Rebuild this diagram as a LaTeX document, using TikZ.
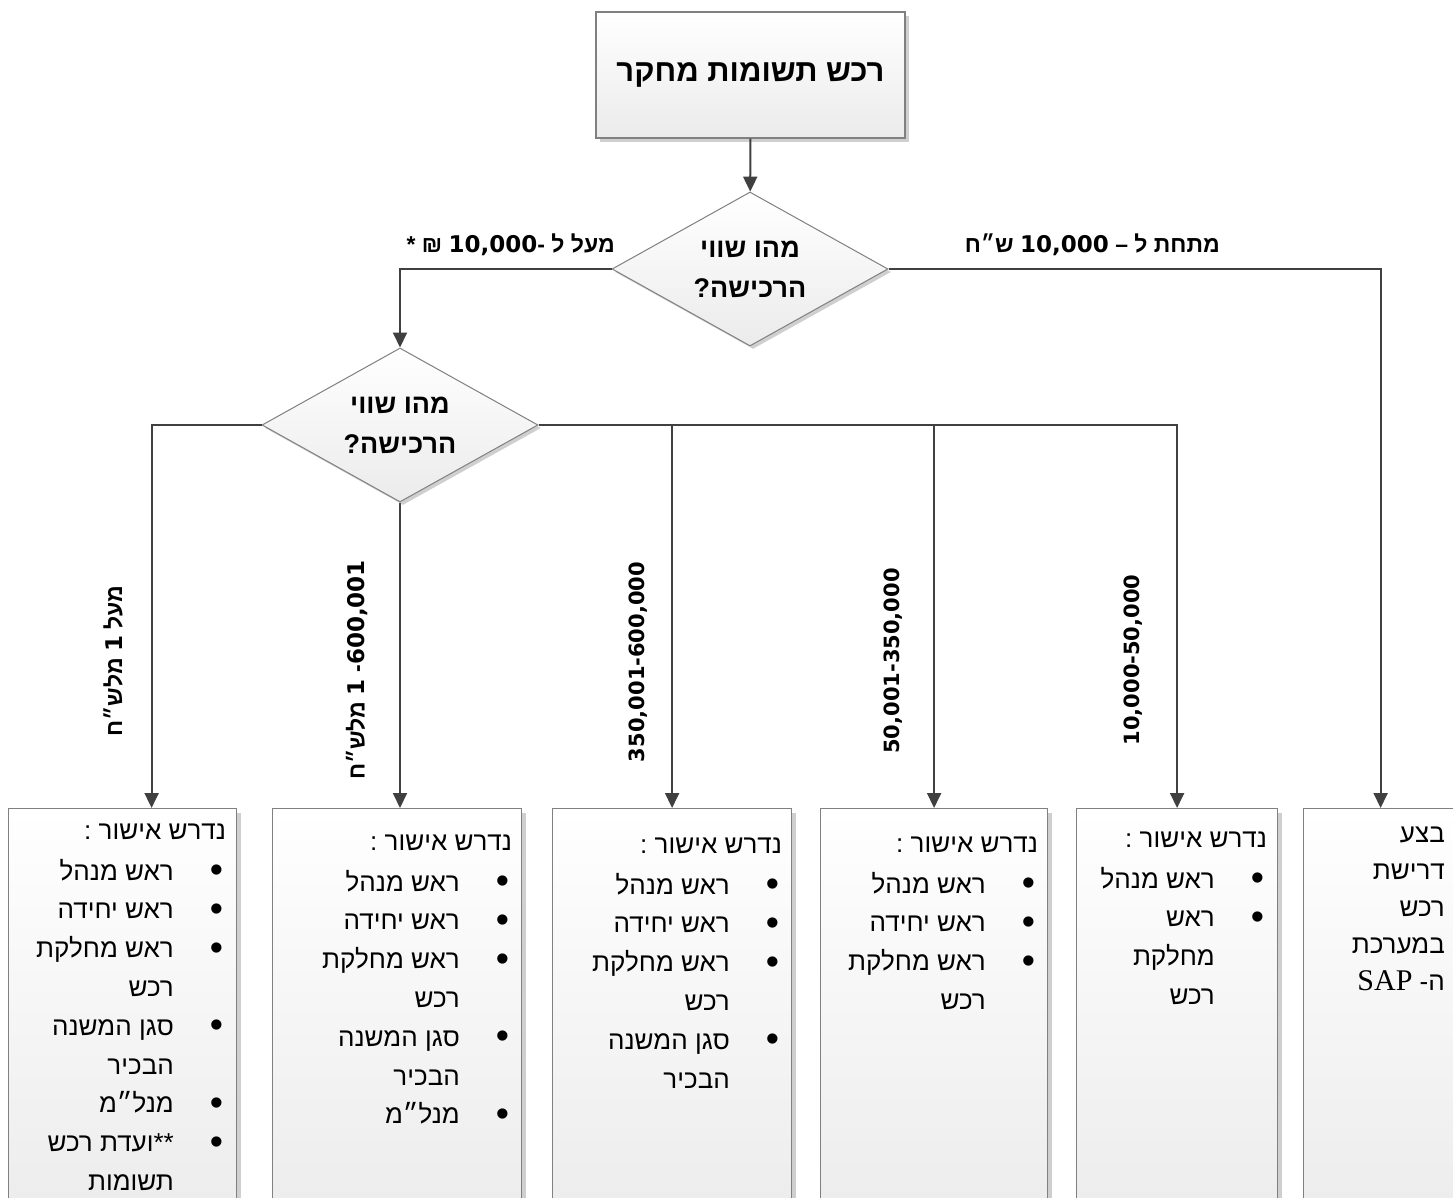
\documentclass[tikz,border=0pt]{standalone}
\usepackage{fontspec}
\setmainfont{Liberation Sans}
\newfontfamily\hebfont[Script=Hebrew]{Liberation Sans}
\newfontfamily\lblfont{DejaVu Sans}
\newfontfamily\latfont{Liberation Serif}
\TeXXeTstate=1
\usetikzlibrary{shapes.geometric,arrows.meta,positioning,shadows}

\definecolor{linegray}{HTML}{404040}
\definecolor{boxgray}{HTML}{808080}
\definecolor{fillgray}{HTML}{EBEBEB}
\definecolor{shadegray}{HTML}{CFCFCF}

% approval list: text column, bullet column
\newcommand{\bdot}{\raisebox{-2.5pt}{\scalebox{1.45}{\textbullet}}}
\newcommand{\apprlist}[1]{\begin{tabular}{@{}r@{\hspace{36pt}}c@{\hspace{3pt}}}
  \multicolumn{2}{@{}r@{}}{\beginR נדרש אישור :\endR}\\[2pt]
  #1
\end{tabular}}
\newcommand{\itm}[1]{\beginR #1\endR & \bdot}
\newcommand{\cnt}[1]{\beginR #1\endR &}
\newcommand{\num}[1]{\beginL{\lblfont #1}\endL}

\tikzset{
  conn/.style={draw=linegray, line width=2pt, -{Triangle[width=14pt,length=15pt]}},
  titlebox/.style={rectangle, draw=boxgray, line width=1.2pt, top color=white, bottom color=fillgray,
    minimum width=309pt, minimum height=126pt, inner sep=0pt,
    drop shadow={shadow xshift=4pt, shadow yshift=-4pt, fill=shadegray, opacity=1},
    font=\hebfont\bfseries\fontsize{31}{36}\selectfont},
  decision/.style={diamond, draw=boxgray, line width=1pt, top color=white, bottom color=fillgray,
    minimum width=276pt, minimum height=154pt, inner sep=-30pt, align=center,
    drop shadow={shadow xshift=3pt, shadow yshift=-3pt, fill=shadegray, opacity=1},
    font=\hebfont\bfseries\fontsize{27}{40}\selectfont},
  apprbox/.style={rectangle, draw=boxgray, line width=1.2pt, top color=white, bottom color=fillgray,
    minimum height=430pt, inner sep=0pt, anchor=north west,
    drop shadow={shadow xshift=4pt, shadow yshift=-4pt, fill=shadegray, opacity=1}},
  apprtext/.style={inner sep=0pt, anchor=north east, font=\hebfont\fontsize{26}{38.8}\selectfont},
  edgelbl/.style={inner sep=0pt, font=\hebfont\bfseries\fontsize{23}{26}\selectfont}
}

\begin{document}
\begin{tikzpicture}[x=1pt, y=-1pt]
\useasboundingbox (0,0) rectangle (1453,1198);
\clip (0,0) rectangle (1453,1198);
\fill[white] (0,0) rectangle (1453,1198);

% top and decisions
\node[titlebox] (start) at (750.5,75) {\beginR רכש תשומות מחקר\endR};
\node[decision] (q1) at (750,269) {\beginR מהו שווי\endR\\\beginR הרכישה?\endR};
\node[decision] (q2) at (400,425) {\beginR מהו שווי\endR\\\beginR הרכישה?\endR};

% approval boxes
\node[apprbox, minimum width=228pt] (b1) at (8,808) {};
\node[apprbox, minimum width=249pt] (b2) at (272,808) {};
\node[apprbox, minimum width=239pt] (b3) at (552,808) {};
\node[apprbox, minimum width=227pt] (b4) at (820,808) {};
\node[apprbox, minimum width=201pt] (b5) at (1076,808) {};
\node[apprbox, minimum width=154pt] (b6) at (1303,808) {};

\node[apprtext] (t1) at ([xshift=-11pt,yshift=-4pt]b1.north east) {\apprlist{
  \itm{ראש מנהל}\\ \itm{ראש יחידה}\\ \itm{ראש מחלקת}\\ \cnt{רכש}\\
  \itm{סגן המשנה}\\ \cnt{הבכיר}\\ \itm{מנל״מ}\\
  \beginR\beginL**\endL{}ועדת רכש\endR & \bdot\\ \cnt{תשומות}}};
\node[apprtext] (t2) at ([xshift=-10pt,yshift=-15pt]b2.north east) {\apprlist{
  \itm{ראש מנהל}\\ \itm{ראש יחידה}\\ \itm{ראש מחלקת}\\ \cnt{רכש}\\
  \itm{סגן המשנה}\\ \cnt{הבכיר}\\ \itm{מנל״מ}}};
\node[apprtext] (t3) at ([xshift=-10pt,yshift=-18pt]b3.north east) {\apprlist{
  \itm{ראש מנהל}\\ \itm{ראש יחידה}\\ \itm{ראש מחלקת}\\ \cnt{רכש}\\
  \itm{סגן המשנה}\\ \cnt{הבכיר}}};
\node[apprtext] (t4) at ([xshift=-10pt,yshift=-17pt]b4.north east) {\apprlist{
  \itm{ראש מנהל}\\ \itm{ראש יחידה}\\ \itm{ראש מחלקת}\\ \cnt{רכש}}};
\node[apprtext] (t5) at ([xshift=-11pt,yshift=-12pt]b5.north east) {\apprlist{
  \itm{ראש מנהל}\\ \itm{ראש}\\ \cnt{מחלקת}\\ \cnt{רכש}}};
\node[apprtext, align=right, font=\hebfont\fontsize{26}{37}\selectfont] (t6)
  at ([xshift=142pt,yshift=-19pt]b6.north west)
  {\beginR בצע\endR\\\beginR דרישת\endR\\\beginR רכש\endR\\\beginR במערכת\endR\\
   \beginR ה- \beginL{\latfont\fontsize{30}{37}\selectfont SAP}\endL\endR};

% connectors
\draw[conn] (start) -- (q1);
\draw[conn] (q1.west) -| (q2.north);
\draw[conn] (q1.east) -| (b6.north);
\draw[conn] (q2.west) -| ([xshift=29pt]b1.north);
\draw[conn] (q2.south) -- (q2.south |- b2.north);
\draw[conn] (q2.east) -| (b3.north);
\draw[conn] (q2.east) -| (b4.north);
\draw[conn] (q2.east) -| (b5.north);

% labels
\node[edgelbl, anchor=east] (over) at (615,245) {\beginR מעל ל -\num{10,000} ₪ *\endR};
\node[edgelbl, anchor=east] (under) at (1220,245) {\beginR מתחת ל – \num{10,000} ש״ח\endR};
\node[edgelbl, rotate=90] (r1) at (113,661) {\beginR מעל \num{1} מלש״ח\endR};
\node[edgelbl, rotate=90] (r2) at (357,670) {\beginR\num{600,001}- \num{1} מלש״ח\endR};
\node[edgelbl, rotate=90, font=\lblfont\bfseries\fontsize{21}{25}\selectfont] (r3) at (638,662) {350,001-600,000};
\node[edgelbl, rotate=90, font=\lblfont\bfseries\fontsize{21}{25}\selectfont] (r4) at (893,661) {50,001-350,000};
\node[edgelbl, rotate=90, font=\lblfont\bfseries\fontsize{21}{25}\selectfont] (r5) at (1133,660) {10,000-50,000};

\end{tikzpicture}
\end{document}
